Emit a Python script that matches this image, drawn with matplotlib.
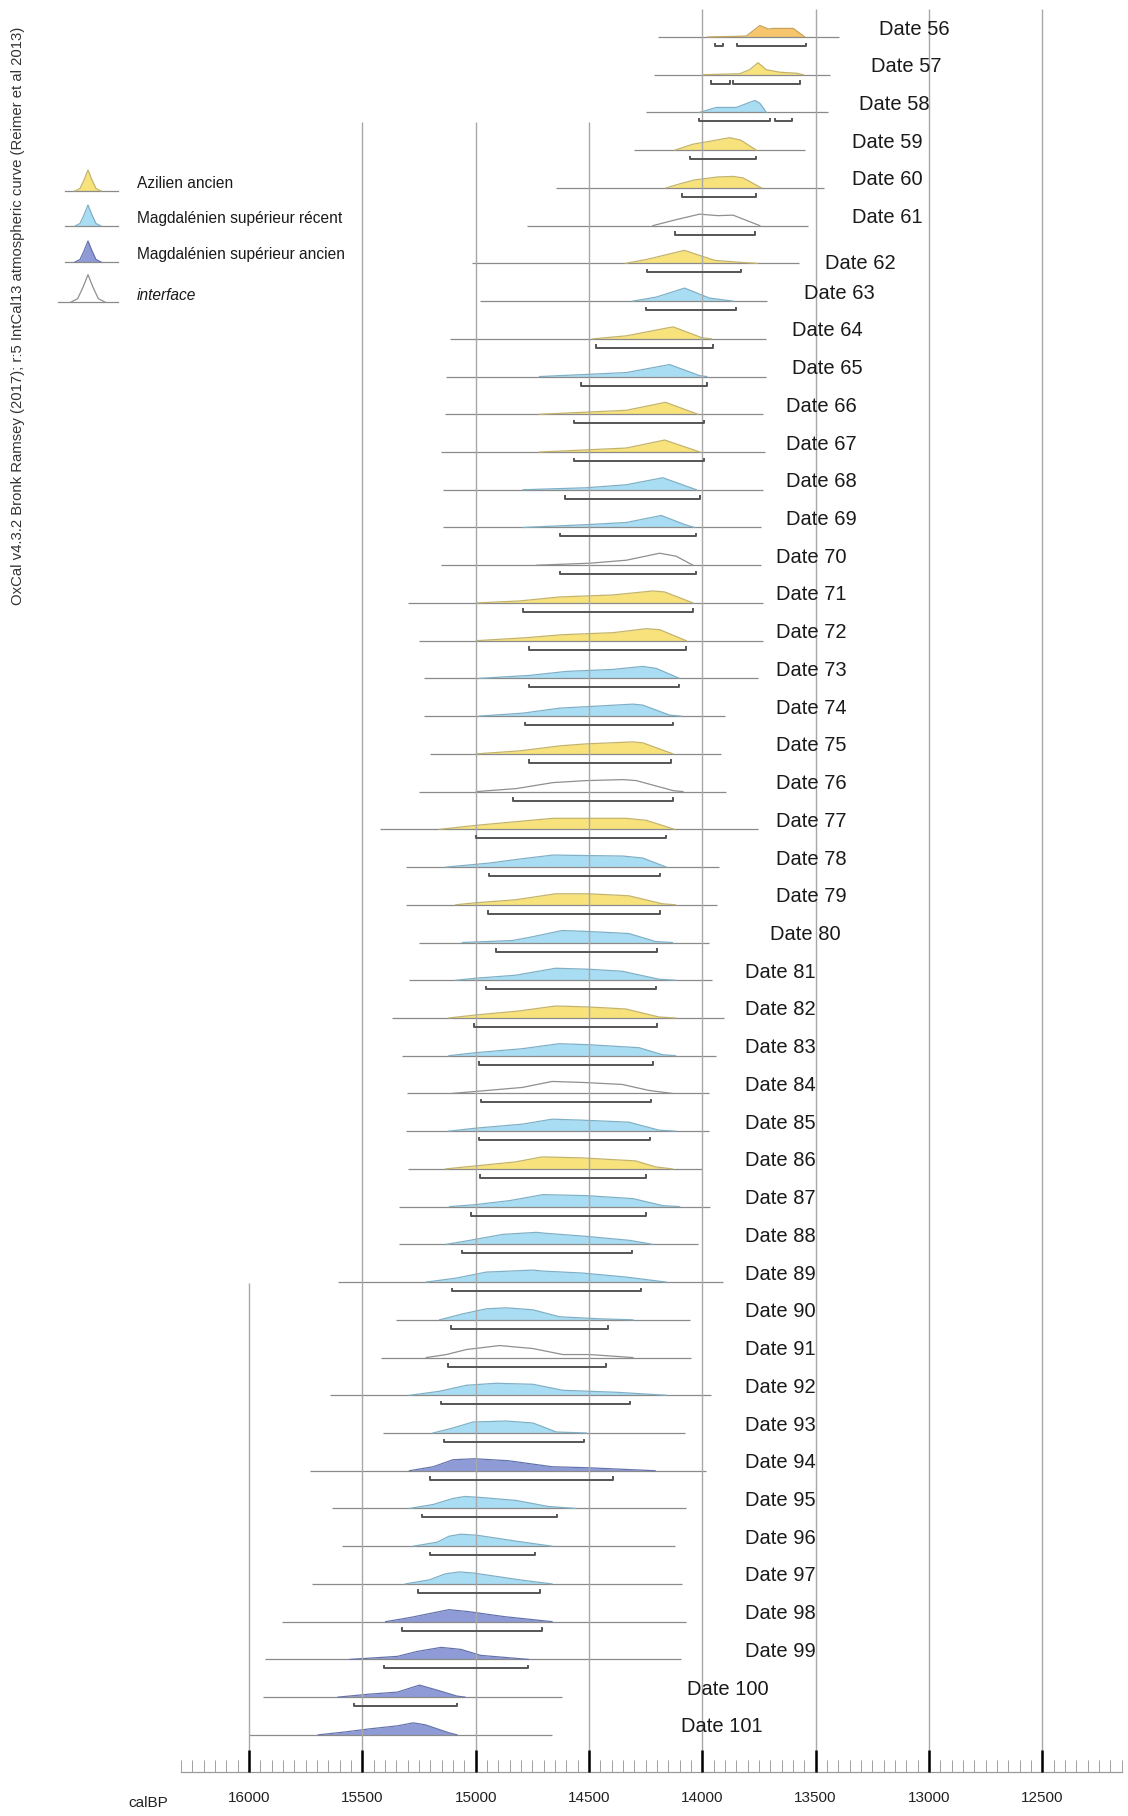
import matplotlib
matplotlib.use("Agg")
import matplotlib.pyplot as plt
from matplotlib import font_manager
from matplotlib.ticker import FixedLocator, NullFormatter
import numpy as np

# --- data (years calBP, heights in pixels of the original plot) ---
date_labels = [f"Date {n}" for n in range(56, 102)]

categories = [
    "O", "Y", "B", "Y", "Y", "I", "Y", "B", "Y", "B",   # 56-65
    "Y", "Y", "B", "B", "I", "Y", "Y", "B", "B", "Y",   # 66-75
    "I", "Y", "B", "Y", "B", "B", "Y", "B", "I", "B",   # 76-85
    "Y", "B", "B", "B", "B", "I", "B", "B", "D", "B",   # 86-95
    "B", "B", "D", "D", "D", "D",                       # 96-101
]

base_start = [14196, 14211, 14248, 14299, 14646, 14774, 15014, 14980, 15115, 15132,
              15137, 15151, 15144, 15144, 15154, 15297, 15250, 15228, 15228, 15203,
              15250, 15424, 15306, 15309, 15250, 15294, 15368, 15324, 15301, 15309,
              15297, 15338, 15338, 15607, 15350, 15416, 15644, 15409, 15729, 15633,
              15589, 15720, 15855, 15930, 15939, 16000]
base_end = [13395, 13437, 13444, 13548, 13461, 13532, 13573, 13716, 13718, 13718,
            13732, 13725, 13732, 13740, 13740, 13730, 13732, 13754, 13901, 13916,
            13894, 13754, 13924, 13934, 13971, 13956, 13904, 13941, 13971, 13971,
            14000, 13965, 14019, 13909, 14056, 14049, 13960, 14078, 13985, 14072,
            14121, 14089, 14072, 14095, 14619, 14663]

densities = [
    [(13976, 0), (13850, 0.6), (13805, 1), (13746, 11.5), (13709, 8), (13687, 8.6), (13599, 8.6), (13547, 0)],
    [(13997, 0), (13835, 1), (13791, 5), (13754, 12), (13717, 5), (13658, 2.5), (13584, 1.5), (13554, 0)],
    [(14012, 0), (13938, 5), (13850, 5), (13768, 12), (13745, 9), (13717, 0)],
    [(14122, 0), (14041, 6), (13940, 10), (13879, 12.5), (13830, 10), (13761, 0)],
    [(14159, 0), (14100, 4), (14034, 8), (13930, 11), (13864, 11.5), (13820, 10), (13739, 0)],
    [(14218, 0), (14115, 6), (14012, 11.5), (13931, 10), (13864, 10.5), (13746, 0)],
    [(14339, 0), (14244, 4), (14079, 13), (13945, 3), (13830, 1), (13756, 0)],
    [(14306, 0), (14203, 4), (14078, 13), (13968, 3), (13865, 0)],
    [(14482, 0), (14335, 3), (14129, 12), (14000, 1), (13960, 0)],
    [(14718, 0), (14335, 4), (14144, 12), (14012, 1), (13980, 0)],
    [(14718, 0), (14335, 4), (14162, 12), (14019, 0)],
    [(14718, 0), (14335, 4), (14166, 12), (14010, 0)],
    [(14791, 0), (14512, 2), (14335, 5), (14174, 12), (14026, 0)],
    [(14791, 0), (14497, 3), (14335, 5), (14181, 12), (14078, 3), (14034, 0)],
    [(14732, 0), (14497, 2), (14335, 5), (14188, 12), (14115, 9), (14041, 0)],
    [(14997, 0), (14806, 2), (14629, 6), (14394, 8), (14218, 12), (14166, 11), (14041, 0)],
    [(14997, 0), (14776, 3), (14615, 6), (14394, 8), (14247, 12), (14188, 11), (14071, 0)],
    [(14985, 0), (14762, 3), (14600, 7), (14394, 9), (14262, 12), (14203, 10), (14100, 0)],
    [(14985, 0), (14791, 3), (14629, 8), (14306, 12), (14262, 11), (14144, 1), (14093, 0)],
    [(14997, 0), (14806, 3), (14629, 8), (14512, 10), (14306, 12), (14262, 11), (14129, 0)],
    [(14997, 0), (14821, 3), (14659, 9), (14512, 11), (14350, 12), (14291, 11), (14129, 1), (14085, 0)],
    [(15159, 0), (14997, 4), (14806, 8), (14659, 11), (14335, 11), (14247, 9), (14122, 0)],
    [(15129, 0), (14938, 4), (14806, 8), (14659, 12), (14350, 11), (14262, 9), (14159, 0)],
    [(15088, 0), (15000, 2), (14824, 5), (14647, 11), (14500, 11), (14324, 9), (14176, 1), (14118, 0)],
    [(15059, 0), (14838, 2), (14765, 5), (14618, 12), (14500, 11), (14324, 9), (14206, 1), (14132, 0)],
    [(15088, 0), (15000, 2), (14824, 5), (14647, 12), (14500, 11), (14353, 9), (14191, 1), (14118, 0)],
    [(15118, 0), (15000, 3), (14809, 7), (14647, 12), (14500, 11), (14338, 9), (14191, 1), (14118, 0)],
    [(15118, 0), (15000, 3), (14794, 7), (14632, 12), (14500, 11), (14279, 8), (14176, 1), (14118, 0)],
    [(15103, 0), (15000, 2), (14794, 6), (14662, 12), (14529, 11), (14353, 9), (14235, 3), (14132, 0)],
    [(15118, 0), (15000, 3), (14794, 7), (14662, 12), (14529, 11), (14324, 9), (14191, 1), (14118, 0)],
    [(15132, 0), (15000, 3), (14824, 7), (14706, 12), (14529, 11), (14294, 8), (14206, 2), (14132, 0)],
    [(15115, 0), (15000, 2), (14850, 6), (14703, 12), (14512, 11), (14306, 8), (14174, 1), (14100, 0)],
    [(15129, 0), (15026, 4), (14879, 10), (14732, 12), (14688, 11), (14512, 8), (14321, 4), (14218, 0)],
    [(15218, 0), (15085, 4), (14953, 10), (14747, 12), (14703, 11), (14526, 9), (14335, 5), (14159, 0)],
    [(15159, 0), (15056, 6), (14953, 11), (14865, 12), (14747, 10), (14629, 3), (14453, 1), (14306, 0)],
    [(15218, 0), (15129, 3), (15041, 8), (14894, 12), (14747, 9), (14615, 3), (14497, 3), (14306, 0)],
    [(15291, 0), (15159, 4), (15041, 10), (14909, 12), (14747, 11), (14615, 5), (14379, 3), (14159, 0)],
    [(15188, 0), (15100, 5), (15012, 11), (14865, 12), (14747, 10), (14644, 1), (14512, 0)],
    [(15292, 0), (15187, 4), (15100, 11), (15004, 12), (14855, 10), (14663, 4), (14505, 3), (14208, 0)],
    [(15292, 0), (15187, 4), (15100, 10), (15047, 12), (14977, 11), (14820, 8), (14680, 2), (14558, 0)],
    [(15275, 0), (15170, 4), (15117, 10), (15065, 12), (14995, 11), (14820, 5), (14663, 0)],
    [(15310, 0), (15205, 4), (15135, 10), (15074, 12), (15012, 11), (14803, 4), (14663, 0)],
    [(15397, 0), (15292, 4), (15205, 8), (15117, 12), (15030, 10), (14873, 5), (14663, 0)],
    [(15554, 0), (15345, 3), (15257, 8), (15152, 12), (15065, 10), (14977, 4), (14768, 0)],
    [(15607, 0), (15467, 3), (15345, 5), (15248, 12), (15170, 7), (15082, 1), (15047, 0)],
    [(15694, 0), (15572, 3), (15467, 6), (15345, 9), (15275, 12), (15222, 10), (15117, 2), (15082, 0)],
]

ranges_95 = [
    [(13945, 13908), (13847, 13544)], [(13960, 13879), (13864, 13569)],
    [(14015, 13699), (13680, 13606)], [(14053, 13764)], [(14090, 13761)],
    [(14122, 13768)], [(14244, 13830)], [(14247, 13853)], [(14468, 13953)],
    [(14534, 13979)], [(14566, 13994)], [(14566, 13994)], [(14604, 14009)],
    [(14629, 14029)], [(14629, 14029)], [(14791, 14041)], [(14765, 14071)],
    [(14765, 14104)], [(14784, 14129)], [(14765, 14137)], [(14835, 14129)],
    [(14997, 14162)], [(14941, 14185)], [(14944, 14187)], [(14912, 14199)],
    [(14953, 14206)], [(15006, 14199)], [(14985, 14218)], [(14976, 14224)],
    [(14985, 14232)], [(14982, 14247)], [(15019, 14247)], [(15060, 14309)],
    [(15103, 14269)], [(15107, 14416)], [(15122, 14424)], [(15151, 14321)],
    [(15141, 14522)], [(15201, 14395)], [(15236, 14640)], [(15201, 14738)],
    [(15254, 14715)], [(15327, 14706)], [(15406, 14771)], [(15537, 15082)], [],
]

label_x = [13222, 13254, 13310, 13340, 13340, 13340, 13459, 13550, 13606, 13606,
           13629, 13629, 13629, 13629, 13675, 13675, 13675, 13675, 13675, 13675,
           13675, 13675, 13675, 13675, 13703, 13813, 13813, 13813, 13813, 13813,
           13813, 13813, 13813, 13813, 13813, 13813, 13813, 13813, 13813, 13813,
           13813, 13813, 13813, 13813, 14066, 14095]

major_ticks = [16000, 15500, 15000, 14500, 14000, 13500, 13000, 12500]

legend_names = ["Azilien ancien", "Magdalénien supérieur récent",
                "Magdalénien supérieur ancien", "interface"]
legend_cats = ["Y", "B", "D", "I"]

# --- styles ---
FILL = {"O": "#f6c56c", "Y": "#f7e27c", "B": "#a9ddf3", "D": "#8e9bd6", "I": None}
EDGE = {"O": "#c9a45a", "Y": "#c4b46a", "B": "#7fb0c6", "D": "#6674ae", "I": "#8f8f8f"}
PX_PER_ROW = 37.73


def has_font(name):
    try:
        font_manager.findfont(font_manager.FontProperties(family=name),
                              fallback_to_default=False)
        return True
    except ValueError:
        return False


narrow = "Liberation Sans Narrow" if has_font("Liberation Sans Narrow") else None
narrow_family = [narrow, "Liberation Sans"] if narrow else ["Liberation Sans"]
narrow_size = 12.5 if narrow else 11
plt.rcParams["font.family"] = ["Liberation Sans", "DejaVu Sans"]

fig = plt.figure(figsize=(11.28, 18.16), dpi=100)
ax = fig.add_axes([0, 44 / 1816, 1, 1772 / 1816])
ax.set_xlim(17098.7, 12121.4)
ax.set_ylim((1772 - 37) / PX_PER_ROW, -37 / PX_PER_ROW)
ax.set_axisbelow(False)

# vertical reference lines, each starting at a different height
grid_tops = {16000: 33.02, 15500: 2.25, 15000: 2.25, 14500: 2.25,
             14000: -0.74, 13500: -0.74, 13000: -0.74, 12500: -0.74}
for yr in major_ticks:
    ax.vlines(yr, grid_tops[yr], ax.get_ylim()[0], color="#a8a8a8", lw=1.0, zorder=2.2)

for i, lab in enumerate(date_labels):
    cat = categories[i]
    ax.hlines(i, base_start[i], base_end[i], color="#8a8a8a", lw=0.9, zorder=2)
    xs = np.array([p[0] for p in densities[i]], dtype=float)
    hs = np.array([p[1] for p in densities[i]], dtype=float) / PX_PER_ROW
    if FILL[cat]:
        ax.fill_between(xs, i, i - hs, color=FILL[cat], lw=0, zorder=1.5)
    ax.plot(xs, i - hs, color=EDGE[cat], lw=0.9, zorder=2)

    yb = i + 9 / PX_PER_ROW
    cap = 2.5 / PX_PER_ROW
    for a, b in ranges_95[i]:
        ax.plot([a, a, b, b], [yb - cap, yb, yb, yb - cap], color="#555555",
                lw=1.4, zorder=2.4)

    dy = 0 if lab == "Date 62" else -8 / PX_PER_ROW
    ax.text(label_x[i], i + dy, lab, fontsize=14.5, color="#1a1a1a",
            ha="left", va="center", zorder=4)

# calendar axis
for side in ("left", "right", "top"):
    ax.spines[side].set_visible(False)
ax.spines["bottom"].set_color("#9a9a9a")
ax.spines["bottom"].set_linewidth(0.9)
ax.spines["bottom"].set_bounds(16300, 12150)
ax.set_yticks([])
ax.xaxis.set_major_locator(FixedLocator(major_ticks))
ax.xaxis.set_minor_locator(FixedLocator(np.arange(12150, 16301, 50)))
ax.xaxis.set_minor_formatter(NullFormatter())
ax.tick_params(axis="x", which="major", direction="in", length=15.5, width=1.8,
               color="black", pad=14, labelsize=narrow_size, labelcolor="#222222")
ax.tick_params(axis="x", which="minor", direction="in", length=8.5, width=0.7,
               color="#a0a0a0")
for t in ax.get_xticklabels():
    t.set_family(narrow_family)
ax.patch.set_alpha(0)

# overlay in pixel units for legend and credits
ov = fig.add_axes([0, 0, 1, 1])
ov.set_xlim(0, 1128)
ov.set_ylim(1816, 0)
ov.axis("off")
ov.set_facecolor("none")

ov.text(148, 1803, "calBP", fontsize=narrow_size, family=narrow_family,
        color="#222222", ha="center", va="center")
ov.text(18, 316, "OxCal v4.3.2 Bronk Ramsey (2017); r:5 IntCal13 atmospheric curve (Reimer et al 2013)",
        rotation=90, fontsize=10.7, color="#333333", ha="center", va="center")

bell = [(-13, 0), (-8, 2.5), (-4, 11), (0, 21), (4, 11), (8, 2.5), (13, 0)]
legend_text_y = [184, 219, 255, 295]
for k, (name, cat) in enumerate(zip(legend_names, legend_cats)):
    by = legend_text_y[k] + 7
    cx = 88
    scale = 1.3 if cat == "I" else 1.0
    bx = np.array([cx + p[0] * scale for p in bell])
    bh = np.array([p[1] * scale for p in bell])
    ov.plot([cx - 23 * scale, cx + 30], [by, by], color="#8a8a8a", lw=0.9)
    if FILL[cat]:
        ov.fill_between(bx, by, by - bh, color=FILL[cat], lw=0)
    ov.plot(bx, by - bh, color=EDGE[cat], lw=0.9)
    ov.text(137, legend_text_y[k], name, fontsize=narrow_size + 0.2,
            family=narrow_family, color="#1a1a1a", ha="left", va="center",
            style="italic" if cat == "I" else "normal")

fig.savefig("out.png", dpi=100, facecolor="white")
